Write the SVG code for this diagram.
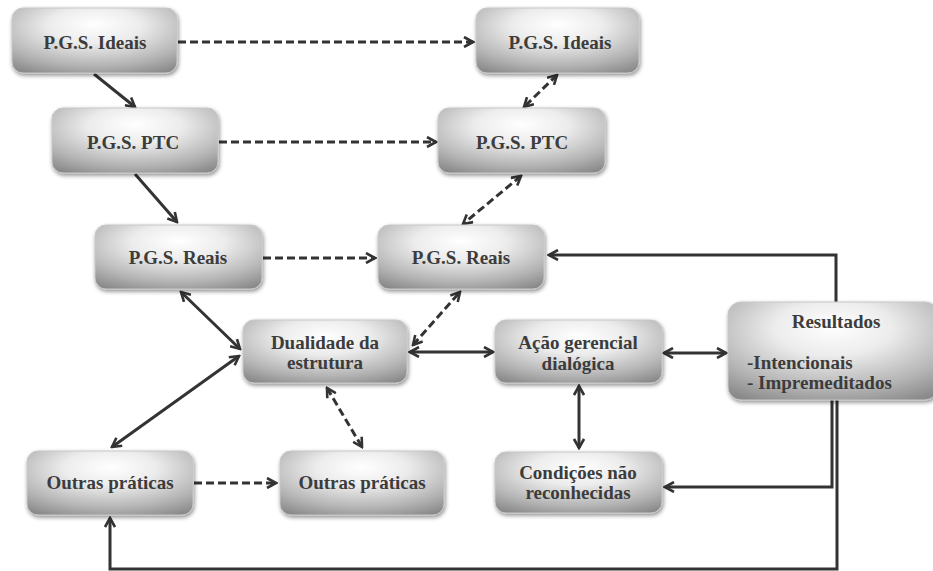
<svg xmlns="http://www.w3.org/2000/svg" width="933" height="571" viewBox="0 0 933 571">
  <defs>
    <radialGradient id="boxFill" cx="50%" cy="30%" r="80%" fx="50%" fy="25%">
      <stop offset="0" stop-color="#ffffff"/>
      <stop offset="0.35" stop-color="#ececec"/>
      <stop offset="0.75" stop-color="#b4b4b4"/>
      <stop offset="1" stop-color="#8a8a8a"/>
    </radialGradient>
    <filter id="shadow" x="-10%" y="-10%" width="125%" height="135%">
      <feGaussianBlur in="SourceAlpha" stdDeviation="2"/>
      <feOffset dx="1" dy="2" result="b"/>
      <feComponentTransfer><feFuncA type="linear" slope="0.45"/></feComponentTransfer>
      <feMerge><feMergeNode/><feMergeNode in="SourceGraphic"/></feMerge>
    </filter>
    <marker id="head" viewBox="0 0 12 12" refX="10" refY="6" markerWidth="12" markerHeight="12" markerUnits="userSpaceOnUse" orient="auto-start-reverse">
      <path d="M1,1 L10,6 L1,11" fill="none" stroke="#333" stroke-width="2.6" stroke-linejoin="miter"/>
    </marker>
  </defs>
  <style>
    .box { fill: url(#boxFill); stroke: #c8c8c8; stroke-width: 1; filter: url(#shadow); }
    .lbl { font-family: "Liberation Serif", "Times New Roman", serif; font-weight: bold; font-size: 19px; fill: #3c3c3c; text-anchor: middle; }
    .lft { text-anchor: start; }
    .solid { fill: none; stroke: #333; stroke-width: 3; }
    .dash { fill: none; stroke: #333; stroke-width: 3; stroke-dasharray: 8 4; }
    .end { marker-end: url(#head); }
    .both { marker-start: url(#head); marker-end: url(#head); }
  </style>

  <rect width="933" height="571" fill="#ffffff"/>

  <!-- connectors -->
  <g id="connectors">
    <!-- solid -->
    <line class="solid end" x1="94" y1="74" x2="135" y2="107"/>
    <line class="solid end" x1="135" y1="174" x2="177" y2="222"/>
    <line class="solid both" x1="181" y1="292" x2="240" y2="349"/>
    <line class="solid both" x1="239" y1="356" x2="112" y2="447"/>
    <line class="solid both" x1="410" y1="352" x2="493" y2="352"/>
    <line class="solid both" x1="664" y1="353" x2="726" y2="353"/>
    <line class="solid both" x1="579" y1="386" x2="579" y2="448"/>
    <polyline class="solid end" points="836,302 836,255 549,255"/>
    <polyline class="solid end" points="832,400 832,487 665,487"/>
    <polyline class="solid end" points="837,400 837,569 110,569 110,518"/>
    <!-- dashed -->
    <line class="dash end" x1="178" y1="42" x2="473" y2="42"/>
    <line class="dash end" x1="219" y1="142" x2="436" y2="142"/>
    <line class="dash end" x1="263" y1="258" x2="375" y2="258"/>
    <line class="dash both" x1="557" y1="75" x2="524" y2="107"/>
    <line class="dash both" x1="521" y1="176" x2="463" y2="224"/>
    <line class="dash both" x1="413" y1="345" x2="460" y2="292"/>
    <line class="dash both" x1="327" y1="388" x2="362" y2="447"/>
    <line class="dash end" x1="194" y1="483" x2="276" y2="483"/>
  </g>

  <!-- nodes -->
  <g id="pgs-ideais-1">
    <rect class="box" x="12" y="8" width="165" height="65" rx="11"/>
    <text class="lbl" x="95" y="49">P.G.S. Ideais</text>
  </g>
  <g id="pgs-ideais-2">
    <rect class="box" x="476" y="8" width="163" height="65" rx="11"/>
    <text class="lbl" x="560" y="49">P.G.S. Ideais</text>
  </g>
  <g id="pgs-ptc-1">
    <rect class="box" x="52" y="108" width="166" height="65" rx="11"/>
    <text class="lbl" x="133" y="149">P.G.S. PTC</text>
  </g>
  <g id="pgs-ptc-2">
    <rect class="box" x="438" y="108" width="167" height="65" rx="11"/>
    <text class="lbl" x="522" y="149">P.G.S. PTC</text>
  </g>
  <g id="pgs-reais-1">
    <rect class="box" x="95" y="225" width="167" height="64" rx="11"/>
    <text class="lbl" x="178" y="264">P.G.S. Reais</text>
  </g>
  <g id="pgs-reais-2">
    <rect class="box" x="378" y="225" width="166" height="64" rx="11"/>
    <text class="lbl" x="461" y="264">P.G.S. Reais</text>
  </g>
  <g id="dualidade">
    <rect class="box" x="243" y="320" width="164" height="63" rx="11"/>
    <text class="lbl" x="325" y="349">Dualidade da</text>
    <text class="lbl" x="325" y="369">estrutura</text>
  </g>
  <g id="acao-gerencial">
    <rect class="box" x="495" y="320" width="167" height="63" rx="11"/>
    <text class="lbl" x="578" y="349">Ação gerencial</text>
    <text class="lbl" x="578" y="370">dialógica</text>
  </g>
  <g id="resultados">
    <rect class="box" x="728" y="302" width="210" height="98" rx="13"/>
    <text class="lbl" x="836" y="328">Resultados</text>
    <text class="lbl lft" x="747" y="369">-Intencionais</text>
    <text class="lbl lft" x="747" y="389">- Impremeditados</text>
  </g>
  <g id="outras-praticas-1">
    <rect class="box" x="27" y="451" width="166" height="64" rx="11"/>
    <text class="lbl" x="110" y="489">Outras práticas</text>
  </g>
  <g id="outras-praticas-2">
    <rect class="box" x="280" y="451" width="164" height="64" rx="11"/>
    <text class="lbl" x="362" y="489">Outras práticas</text>
  </g>
  <g id="condicoes">
    <rect class="box" x="495" y="452" width="167" height="61" rx="11"/>
    <text class="lbl" x="578" y="479">Condições não</text>
    <text class="lbl" x="578" y="499">reconhecidas</text>
  </g>
</svg>
